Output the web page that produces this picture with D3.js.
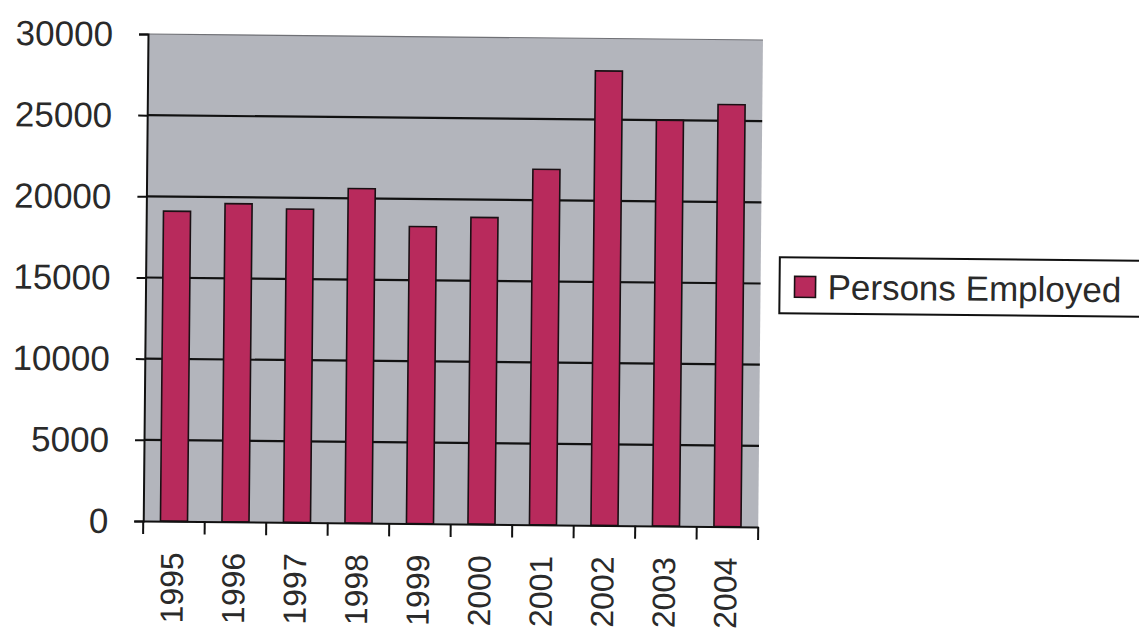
<!DOCTYPE html>
<html>
<head>
<meta charset="utf-8">
<script src="https://cdn.jsdelivr.net/npm/d3@7"></script>
<style>
  html, body { margin: 0; padding: 0; background: #ffffff; }
  svg { display: block; }
</style>
</head>
<body>
<svg id="chart" width="1139" height="632"></svg>
<script>
// Persons employed per year
const years = ["1995", "1996", "1997", "1998", "1999", "2000", "2001", "2002", "2003", "2004"];
const personsEmployed = [19100, 19600, 19300, 20600, 18300, 18900, 21900, 28000, 25000, 26000];
const yTicks = [0, 5000, 10000, 15000, 20000, 25000, 30000];
const seriesName = "Persons Employed";

const plot = { left: 148, top: 34, width: 615, height: 487 };
const tilt = 0.56; // the sheet sits slightly turned

const svg = d3.select("#chart");
const g = svg.append("g")
  .attr("transform", `rotate(${tilt}, ${plot.left}, ${plot.top})`);

const x = d3.scaleBand()
  .domain(years)
  .range([plot.left, plot.left + plot.width])
  .paddingInner(0.56)
  .paddingOuter(0.28);

const xTickScale = d3.scaleBand()
  .domain(years)
  .range([plot.left, plot.left + plot.width]);

const y = d3.scaleLinear()
  .domain([0, 30000])
  .range([plot.top + plot.height, plot.top]);

// plot area
g.append("rect")
  .attr("x", plot.left).attr("y", plot.top)
  .attr("width", plot.width).attr("height", plot.height)
  .attr("fill", "#b3b5bc");

g.append("line")
  .attr("x1", plot.left).attr("x2", plot.left + plot.width)
  .attr("y1", plot.top).attr("y2", plot.top)
  .attr("stroke", "#6f7075").attr("stroke-width", 1.2);

// horizontal gridlines
g.append("g")
  .selectAll("line")
  .data(yTicks.filter(t => t > 0 && t < 30000))
  .join("line")
  .attr("x1", plot.left).attr("x2", plot.left + plot.width)
  .attr("y1", d => y(d)).attr("y2", d => y(d))
  .attr("stroke", "#111").attr("stroke-width", 2.2);

// bars
g.append("g")
  .selectAll("rect")
  .data(years.map((yr, i) => ({ yr, v: personsEmployed[i] })))
  .join("rect")
  .attr("x", d => x(d.yr))
  .attr("y", d => y(d.v))
  .attr("width", x.bandwidth())
  .attr("height", d => y(0) - y(d.v))
  .attr("fill", "#b82a5c")
  .attr("stroke", "#1a1014")
  .attr("stroke-width", 1.6);

// y axis
const yAxis = d3.axisLeft(y)
  .tickValues(yTicks)
  .tickSize(9)
  .tickPadding(26)
  .tickFormat(d3.format("d"));

const yg = g.append("g")
  .attr("transform", `translate(${plot.left},0)`)
  .call(yAxis);
yg.select(".domain").attr("stroke", "#111").attr("stroke-width", 2);
yg.selectAll(".tick line").attr("stroke", "#111").attr("stroke-width", 2);
yg.selectAll(".tick text")
  .attr("fill", "#2a2a2a")
  .attr("font-family", "'Liberation Sans', Arial, sans-serif")
  .attr("font-size", 35)
  .attr("dy", "0.34em");

// x axis
const xAxis = d3.axisBottom(xTickScale)
  .tickSize(0)
  .tickFormat("");
const xg = g.append("g")
  .attr("transform", `translate(0,${plot.top + plot.height})`)
  .call(xAxis);
xg.select(".domain").attr("stroke", "#111").attr("stroke-width", 2);

// tick marks on category boundaries
const bounds = years.map(yr => xTickScale(yr)).concat([plot.left + plot.width]);
xg.append("g")
  .selectAll("line")
  .data(bounds)
  .join("line")
  .attr("x1", d => d).attr("x2", d => d)
  .attr("y1", 0).attr("y2", 13)
  .attr("stroke", "#111").attr("stroke-width", 2);

// rotated year labels
xg.append("g")
  .selectAll("text")
  .data(years)
  .join("text")
  .attr("transform", d => `translate(${xTickScale(d) + xTickScale.bandwidth() / 2 - 2},31) rotate(-90)`)
  .attr("text-anchor", "end")
  .attr("dy", "0.36em")
  .attr("fill", "#2a2a2a")
  .attr("font-family", "'Liberation Sans', Arial, sans-serif")
  .attr("font-size", 32)
  .text(d => d);

// legend
const legend = g.append("g").attr("transform", "translate(782,251)");
legend.append("rect")
  .attr("x", 0).attr("y", 0)
  .attr("width", 380).attr("height", 56)
  .attr("fill", "#ffffff")
  .attr("stroke", "#111").attr("stroke-width", 2);
legend.append("rect")
  .attr("x", 15).attr("y", 19)
  .attr("width", 21).attr("height", 21)
  .attr("fill", "#b82a5c")
  .attr("stroke", "#1a1014").attr("stroke-width", 1.6);
legend.append("text")
  .attr("x", 48).attr("y", 29)
  .attr("dy", "0.36em")
  .attr("fill", "#2a2a2a")
  .attr("font-family", "'Liberation Sans', Arial, sans-serif")
  .attr("font-size", 35)
  .text(seriesName);
</script>
</body>
</html>
